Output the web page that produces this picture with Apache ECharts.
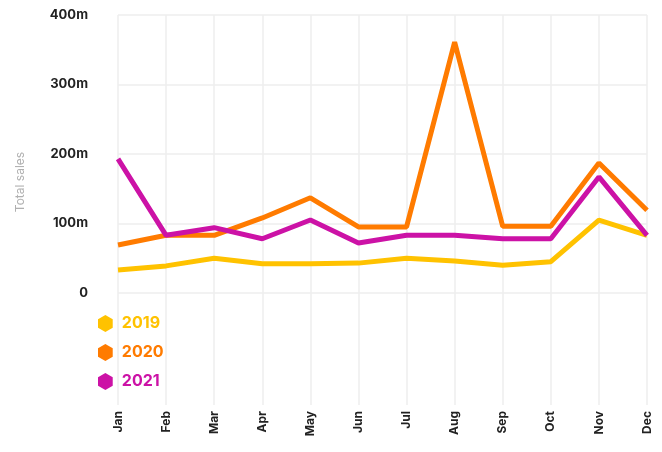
<!DOCTYPE html>
<html>
<head>
<meta charset="utf-8">
<script src="https://cdn.jsdelivr.net/npm/echarts@6/dist/echarts.min.js"></script>
<style>
    html, body { margin: 0; padding: 0; background: #fff; }
    #chart { width: 662px; height: 452px; }
</style>
</head>
<body>
<div id="chart"></div>
<script>
    // monthly total sales, in millions
    const months = ['Jan', 'Feb', 'Mar', 'Apr', 'May', 'Jun', 'Jul', 'Aug', 'Sep', 'Oct', 'Nov', 'Dec'];
    const sales2019 = [33, 39, 50, 42, 42, 43, 50, 46, 40, 45, 105, 83];
    const sales2020 = [69, 83, 83, 108, 137, 95, 95, 361, 96, 96, 187, 119];
    const sales2021 = [193, 83, 94, 78, 105, 72, 83, 83, 78, 78, 167, 83];
    const years = ['2019', '2020', '2021'];
    const colors = ['#FFC200', '#FF7B00', '#CC12A6'];

    const hexagon = 'path://M50 0 L93.3 25 L93.3 75 L50 100 L6.7 75 L6.7 25 Z';
    const gridLine = { show: true, lineStyle: { color: '#eeeeee', width: 1.5 } };
    const font = 'Inter, "Noto Sans", sans-serif';

    let chart = echarts.init(document.getElementById('chart'));

    let option = {
        animation: false,
        grid: [
            { left: 118, right: 15, top: 15, height: 278 },
            { left: 118, right: 15, top: 293, height: 112 }
        ],
        legend: {
            orient: 'vertical',
            left: 93,
            top: 310,
            itemGap: 12,
            itemWidth: 15,
            itemHeight: 17,
            data: years.map((y, i) => ({
                name: y,
                icon: hexagon,
                textStyle: { color: colors[i] }
            })),
            textStyle: { fontFamily: font, fontSize: 16, fontWeight: 'bold', padding: [0, 0, 0, 4] }
        },
        xAxis: [
            {
                gridIndex: 0,
                type: 'category',
                data: months,
                boundaryGap: false,
                axisLine: { show: false },
                axisTick: { show: false },
                axisLabel: { show: false },
                splitLine: gridLine
            },
            {
                gridIndex: 1,
                type: 'category',
                data: months,
                boundaryGap: false,
                axisLine: { show: false },
                axisTick: { show: false },
                axisLabel: {
                    rotate: 90,
                    margin: 6,
                    color: '#222',
                    fontFamily: font,
                    fontSize: 12,
                    fontWeight: 'bold'
                },
                splitLine: gridLine
            }
        ],
        yAxis: [
            {
                gridIndex: 0,
                type: 'value',
                min: 0,
                max: 400,
                interval: 100,
                name: 'Total sales',
                nameLocation: 'middle',
                nameGap: 92,
                nameTextStyle: { color: '#b0b0b0', fontFamily: font, fontSize: 12, padding: [0, 56, 0, 0] },
                axisLine: { show: false },
                axisTick: { show: false },
                axisLabel: {
                    margin: 30,
                    color: '#222',
                    fontFamily: font,
                    fontSize: 13,
                    fontWeight: 'bold',
                    formatter: v => v === 0 ? '0' : v + 'm'
                },
                splitLine: gridLine
            },
            {
                gridIndex: 1,
                type: 'value',
                show: false,
                splitLine: { show: false }
            }
        ],
        series: [sales2019, sales2020, sales2021].map((d, i) => ({
            name: years[i],
            type: 'line',
            xAxisIndex: 0,
            yAxisIndex: 0,
            data: d,
            symbol: 'none',
            color: colors[i],
            lineStyle: { width: 5, color: colors[i] },
            z: 2 + (i === 2 ? 1 : 0)
        }))
    };

    chart.setOption(option);
</script>
</body>
</html>
